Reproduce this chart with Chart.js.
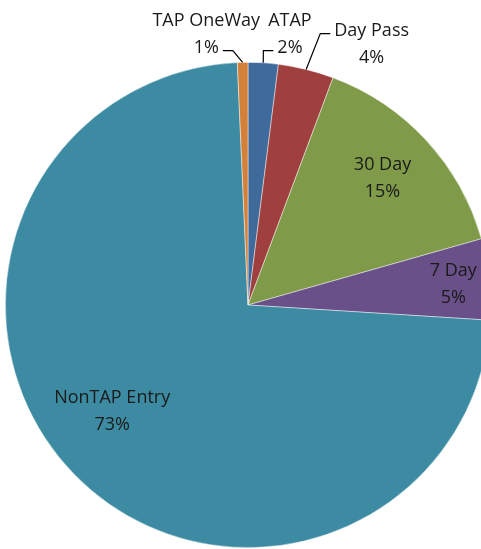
<!DOCTYPE html>
<html>
<head>
<meta charset="utf-8">
<title>Fare media share</title>
<script src="https://cdn.jsdelivr.net/npm/chart.js"></script>
<style>
  html, body { margin: 0; padding: 0; background: #fff; overflow: hidden; }
  #wrap { position: absolute; left: 0; top: 0; width: 496px; height: 549px; }
</style>
</head>
<body>
<div id="wrap"><canvas id="pie"></canvas></div>
<script>
// Slice order clockwise from 12 o'clock
const categories = ['ATAP', 'Day Pass', '30 Day', '7 Day', 'NonTAP Entry', 'TAP OneWay'];
const shares = [2.0, 3.7, 14.9, 5.4, 73.3, 0.7];
const shareLabels = ['2%', '4%', '15%', '5%', '73%', '1%'];
const sliceColors = ['#3F6A9C', '#A0403E', '#7F9B49', '#6A5088', '#3D8BA2', '#D2803A'];

// label placement: radius as fraction of R, angle shift (deg) from slice middle,
// outside labels get a leader line to the given text row
const labelRadius = [1.13, 1.19, 0.76, 0.85, 0.71, 1.13];
const labelShift = [5.2, 11.5, -0.5, 0.5, 6.5, -7.5];
const leaderRow = [1, 0, -1, -1, -1, 1];

const FONT = '18px "Open Sans", "Liberation Sans", sans-serif';
const LINE_H = 27;

const labelPlugin = {
  id: 'sliceLabels',
  afterDatasetsDraw(chart) {
    const ctx = chart.ctx;
    const arcs = chart.getDatasetMeta(0).data;
    ctx.save();
    ctx.font = FONT;
    ctx.fillStyle = '#1a1a1a';
    ctx.textAlign = 'center';
    ctx.textBaseline = 'middle';
    arcs.forEach((arc, i) => {
      const { x, y, startAngle, endAngle, outerRadius } = arc.getProps(['x', 'y', 'startAngle', 'endAngle', 'outerRadius'], true);
      const mid = (startAngle + endAngle) / 2;
      const a = mid + labelShift[i] * Math.PI / 180;
      const cx = x + Math.cos(a) * outerRadius * labelRadius[i];
      const cy = y + Math.sin(a) * outerRadius * labelRadius[i];
      const lines = [categories[i], shareLabels[i]];
      const y0 = cy - LINE_H / 2;
      lines.forEach((t, k) => ctx.fillText(t, cx, y0 + k * LINE_H));

      const row = leaderRow[i];
      if (row >= 0) {
        const ex = x + Math.cos(mid) * outerRadius;
        const ey = y + Math.sin(mid) * outerRadius;
        const w = ctx.measureText(lines[row]).width;
        const side = ex > cx ? 1 : -1;
        const hx = cx + side * (w / 2 + 4);
        const hy = y0 + row * LINE_H + 3;
        const bx = hx + side * 10;
        ctx.beginPath();
        ctx.moveTo(hx, hy);
        ctx.lineTo(bx, hy);
        ctx.lineTo(ex, ey);
        ctx.strokeStyle = '#000';
        ctx.lineWidth = 1.2;
        ctx.stroke();
      }
    });
    ctx.restore();
  }
};

new Chart(document.getElementById('pie'), {
  type: 'pie',
  data: {
    labels: categories,
    datasets: [{
      data: shares,
      backgroundColor: sliceColors,
      borderColor: 'rgba(255,255,255,0.6)',
      borderWidth: 0.75
    }]
  },
  options: {
    responsive: true,
    maintainAspectRatio: false,
    animation: false,
    layout: { padding: { left: 5, top: 62, right: 5, bottom: 1 } },
    plugins: {
      legend: { display: false },
      tooltip: { enabled: false }
    }
  },
  plugins: [labelPlugin]
});
</script>
</body>
</html>
